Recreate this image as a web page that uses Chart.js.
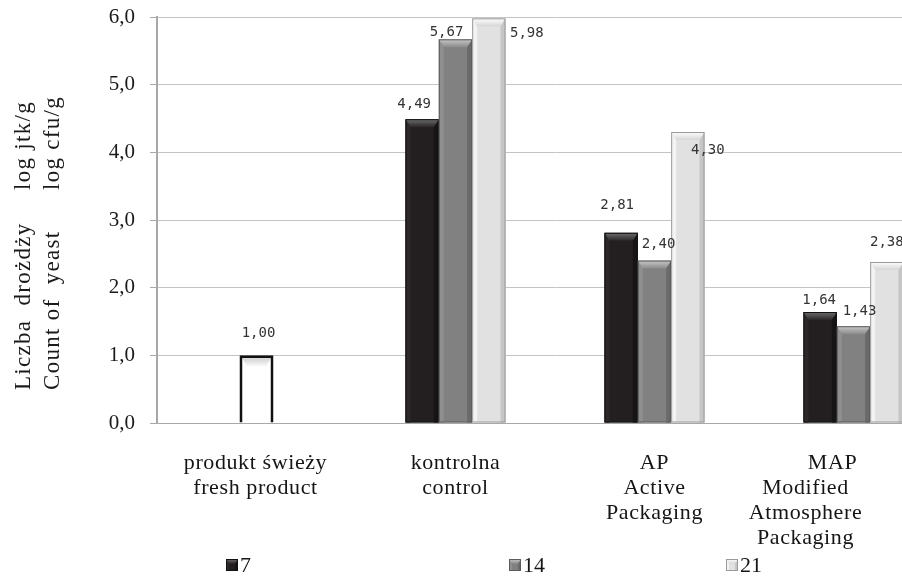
<!DOCTYPE html>
<html>
<head>
<meta charset="utf-8">
<script src="https://cdn.jsdelivr.net/npm/chart.js@4/dist/chart.umd.min.js"></script>
<style>
  html, body { margin: 0; padding: 0; background: #fff; overflow: hidden; width: 902px; height: 580px; }
  #wrap { position: relative; width: 953px; height: 580px; }
</style>
</head>
<body>
<div id="wrap"><canvas id="c" width="953" height="580"></canvas></div>
<script>
// Categories (each entry is a multi-line label)
const categories = [
  ['produkt świeży', 'fresh product'],
  ['kontrolna', 'control'],
  ['AP', 'Active', 'Packaging'],
  ['MAP', 'Modified', 'Atmosphere', 'Packaging']
];
// Storage days
const seriesNames = ['7', '14', '21'];
const day7 = [null, 4.49, 2.81, 1.64];
const day14 = [null, 5.67, 2.40, 1.43];
const day21 = [null, 5.98, 4.30, 2.38];
const freshProduct = [1.00, null, null, null];
const yTickLabels = ['0,0', '1,0', '2,0', '3,0', '4,0', '5,0', '6,0'];
const yTitleLines = [['Liczba  drożdży', 'log jtk/g'], ['Count of  yeast', 'log cfu/g']];

const SERIF = '"Liberation Serif", "Times New Roman", serif';
const MONO = '"DejaVu Sans Mono", monospace';

const barStyles = [
  { fill: '#231f20', left: '#2c2829', right: '#171415', top0: '#6e6e6e', top1: '#2a2627', edge: '#121212' },
  { fill: '#818181', left: '#8f8f8f', right: '#6a6a6a', top0: '#c8c8c8', top1: '#8a8a8a', edge: '#5c5c5c' },
  { fill: '#e1e1e1', left: '#f3f3f3', right: '#c6c6c6', top0: '#ffffff', top1: '#d6d6d6', edge: '#9a9a9a' }
];

function poly(ctx, pts, fill) {
  ctx.beginPath();
  ctx.moveTo(pts[0], pts[1]);
  for (let i = 2; i < pts.length; i += 2) ctx.lineTo(pts[i], pts[i + 1]);
  ctx.closePath();
  ctx.fillStyle = fill;
  ctx.fill();
}

function bevelBox(ctx, l, t, r, b, st, s) {
  poly(ctx, [l, t, l + s, t + s, l + s, b, l, b], st.left);
  poly(ctx, [r, t, r - s, t + s, r - s, b, r, b], st.right);
  const g = ctx.createLinearGradient(0, t, 0, t + s * 1.6);
  g.addColorStop(0, st.top0);
  g.addColorStop(1, st.top1);
  poly(ctx, [l, t, r, t, r - s, t + s * 1.6, l + s, t + s * 1.6], g);
  ctx.strokeStyle = st.edge;
  ctx.lineWidth = 1;
  ctx.strokeRect(l + 0.5, t + 0.5, r - l - 1, b - t - 1);
}

// Bevelled look on the bars
const bevelPlugin = {
  id: 'bevel',
  afterDatasetsDraw(chart) {
    const ctx = chart.ctx;
    ctx.save();
    chart.data.datasets.forEach((ds, di) => {
      const meta = chart.getDatasetMeta(di);
      meta.data.forEach((el, i) => {
        if (ds.data[i] == null) return;
        const p = el.getProps(['x', 'y', 'base', 'width'], true);
        const l = p.x - p.width / 2, r = p.x + p.width / 2, t = p.y, b = p.base;
        if (di < 3) {
          bevelBox(ctx, l, t, r, b, barStyles[di], 5);
        } else {
          const g = ctx.createLinearGradient(0, t + 3, 0, t + 12);
          g.addColorStop(0, '#d2d2d2');
          g.addColorStop(1, '#ffffff');
          poly(ctx, [l + 3, t + 3, r - 3, t + 3, r - 7, t + 11, l + 7, t + 11], g);
        }
      });
    });
    ctx.restore();
  }
};

// Value labels above the bars
const labelOffsets = {
  0: { 1: [-8, -15], 2: [-4, -27], 3: [-1, -12] },
  1: { 1: [-9, -7], 2: [4, -16], 3: [6, -15] },
  2: { 1: [38, 15], 2: [20, 18], 3: [0, -20] },
  3: { 0: [2, -22] }
};
const valueLabelPlugin = {
  id: 'valueLabels',
  afterDatasetsDraw(chart) {
    const ctx = chart.ctx;
    ctx.save();
    ctx.font = '14px ' + MONO;
    ctx.fillStyle = '#333';
    ctx.textAlign = 'center';
    ctx.textBaseline = 'middle';
    chart.data.datasets.forEach((ds, di) => {
      const meta = chart.getDatasetMeta(di);
      meta.data.forEach((el, i) => {
        const v = ds.data[i];
        if (v == null) return;
        const off = (labelOffsets[di] && labelOffsets[di][i]) || [0, -14];
        ctx.fillText(v.toFixed(2).replace('.', ','), el.x + off[0], el.y + off[1]);
      });
    });
    ctx.restore();
  }
};

// Category labels under the axis, multi-line
const catLineShift = { 0: [-1, -1], 3: [-21, -48, -48, -48] };
const categoryLabelPlugin = {
  id: 'categoryLabels',
  afterDraw(chart) {
    const ctx = chart.ctx;
    const xs = chart.scales.x;
    ctx.save();
    ctx.font = '22px ' + SERIF;
    ctx.letterSpacing = '0.6px';
    ctx.fillStyle = '#151515';
    ctx.textAlign = 'center';
    ctx.textBaseline = 'middle';
    categories.forEach((lines, i) => {
      const cx = xs.getPixelForValue(i);
      lines.forEach((txt, k) => {
        const sh = (catLineShift[i] && catLineShift[i][k]) || 0;
        ctx.fillText(txt, cx + sh, xs.top + 40 + k * 25);
      });
    });
    ctx.restore();
  }
};

// Rotated two-line axis title
const yTitlePlugin = {
  id: 'yTitle',
  afterDraw(chart) {
    const ctx = chart.ctx;
    const ys = chart.scales.y;
    const baseX = [30, 59];
    const starts = [ys.bottom - 33, ys.bottom - 233];
    ctx.save();
    ctx.font = '23px ' + SERIF;
    ctx.fillStyle = '#1a1a1a';
    ctx.textAlign = 'left';
    ctx.textBaseline = 'alphabetic';
    ctx.letterSpacing = '1.3px';
    yTitleLines.forEach((parts, li) => {
      parts.forEach((txt, pi) => {
        ctx.save();
        ctx.translate(baseX[li], starts[pi]);
        ctx.rotate(-Math.PI / 2);
        ctx.fillText(txt, 0, 0);
        ctx.restore();
      });
    });
    ctx.restore();
  }
};

// Legend along the bottom
const legendX = [226, 509, 726];
const legendPlugin = {
  id: 'bottomLegend',
  afterDraw(chart) {
    const ctx = chart.ctx;
    const cy = 565;
    ctx.save();
    seriesNames.forEach((name, i) => {
      const x = legendX[i];
      const st = barStyles[i];
      ctx.fillStyle = st.fill;
      ctx.fillRect(x, cy - 6, 12, 12);
      bevelBox(ctx, x, cy - 6, x + 12, cy + 6, st, 3);
      ctx.font = '22px ' + SERIF;
      ctx.fillStyle = '#151515';
      ctx.textAlign = 'left';
      ctx.textBaseline = 'middle';
      ctx.fillText(name, x + 14, cy + 1);
    });
    ctx.restore();
  }
};

const seriesData = [day7, day14, day21];
const datasets = seriesData.map((d, i) => ({
  label: seriesNames[i],
  data: d,
  backgroundColor: barStyles[i].fill,
  borderColor: barStyles[i].edge,
  borderWidth: 0,
  categoryPercentage: 100 / 199,
  barPercentage: 1
}));
datasets.push({
  label: 'fresh',
  data: freshProduct,
  backgroundColor: '#ffffff',
  borderColor: '#111111',
  borderWidth: 3,
  borderSkipped: 'bottom',
  categoryPercentage: 100 / 199,
  barPercentage: 1,
  maxBarThickness: 34
});

new Chart(document.getElementById('c'), {
  type: 'bar',
  data: { labels: categories.map(c => c.join(' ')), datasets },
  options: {
    responsive: false,
    animation: false,
    devicePixelRatio: 1,
    skipNull: true,
    layout: { padding: { top: 17, left: 0, right: 0, bottom: 0 } },
    plugins: { legend: { display: false }, tooltip: { enabled: false } },
    scales: {
      x: {
        grid: { display: false },
        border: { display: true, color: '#a8a8a8', width: 1 },
        ticks: { display: false },
        afterFit(s) { s.height = 157; }
      },
      y: {
        min: 0, max: 6,
        ticks: {
          stepSize: 1,
          padding: 15,
          color: '#1a1a1a',
          font: { family: SERIF, size: 21 },
          callback: (v) => yTickLabels[v]
        },
        grid: { color: '#c4c4c4', lineWidth: 1, tickLength: 7, tickColor: '#a8a8a8' },
        border: { color: '#a8a8a8', width: 2 },
        afterFit(s) { s.width = 157; s.paddingTop = 0; s.paddingBottom = 0; }
      }
    }
  },
  plugins: [bevelPlugin, valueLabelPlugin, categoryLabelPlugin, yTitlePlugin, legendPlugin]
});
</script>
</body>
</html>
